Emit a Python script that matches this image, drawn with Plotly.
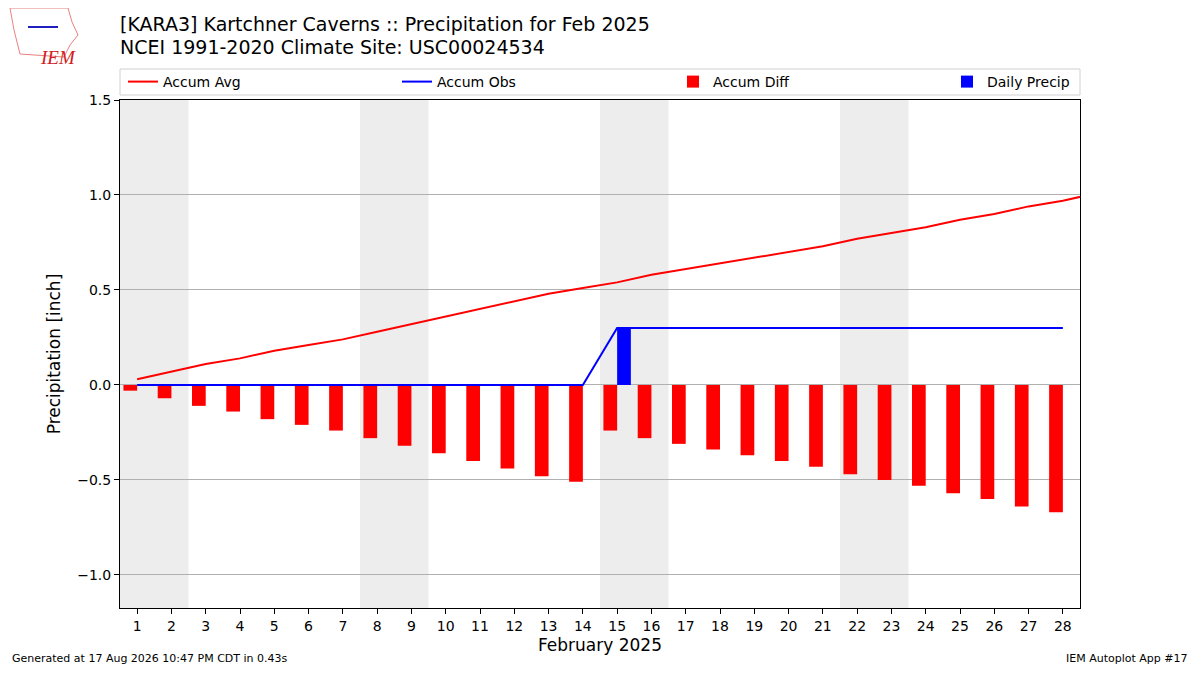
import plotly.graph_objects as go

# =============================================================================
# DATA
# =============================================================================

days = list(range(1, 29))
avg_days = list(range(1, 30))

accum_avg = [0.03, 0.07, 0.11, 0.14, 0.18, 0.21, 0.24, 0.28, 0.32, 0.36,
             0.40, 0.44, 0.48, 0.51, 0.54, 0.58, 0.61, 0.64, 0.67, 0.70,
             0.73, 0.77, 0.80, 0.83, 0.87, 0.90, 0.94, 0.97, 1.01]
accum_obs = [0.0] * 14 + [0.30] * 14
daily_precip = [0.0] * 14 + [0.30] + [0.0] * 13
accum_diff = [-0.03, -0.07, -0.11, -0.14, -0.18, -0.21, -0.24, -0.28, -0.32, -0.36,
              -0.40, -0.44, -0.48, -0.51, -0.24, -0.28, -0.31, -0.34, -0.37, -0.40,
              -0.43, -0.47, -0.50, -0.53, -0.57, -0.60, -0.64, -0.67]

# saturdays (each weekend = sat + sun)
weekend_starts = [1, 8, 15, 22]

title1 = "[KARA3] Kartchner Caverns :: Precipitation for Feb 2025"
title2 = "NCEI 1991-2020 Climate Site: USC00024534"
footer_left = "Generated at 17 Aug 2026 10:47 PM CDT in 0.43s"
footer_right = "IEM Autoplot App #17"

# =============================================================================
# LAYOUT HELPERS (screen pixel -> paper)
# the page body has an 8px margin, so the figure is drawn 8px in
# =============================================================================

OFF = 8
W, H = 1200 - 2 * OFF, 675 - 2 * OFF
PL, PR, PT, PB = 120, 1080, 100, 608   # plot area in screen pixels
ML = PL - OFF
MT = PT - OFF
MR = W - (PR - OFF)
MB = H - (PB - OFF)


def px(x):
    return (x - PL) / (PR - PL)


def py(y):
    return (PB - y) / (PB - PT)


FONT = "DejaVu Sans"

fig = go.Figure()

fig.add_trace(go.Scatter(x=avg_days, y=accum_avg, mode="lines", name="Accum Avg",
                         line=dict(color="red", width=2), legend="legend"))
fig.add_trace(go.Scatter(x=days, y=accum_obs, mode="lines", name="Accum Obs",
                         line=dict(color="blue", width=2), legend="legend2"))
fig.add_trace(go.Bar(x=days, y=accum_diff, name="Accum Diff", width=0.4, offset=-0.4,
                     marker=dict(color="red", line=dict(width=0)), legend="legend3"))
fig.add_trace(go.Bar(x=days, y=daily_precip, name="Daily Precip", width=0.4, offset=0,
                     marker=dict(color="blue", line=dict(width=0)), legend="legend4"))

# weekend shading
for d in weekend_starts:
    fig.add_shape(type="rect", xref="x", yref="paper", x0=d - 0.5, x1=d + 1.5,
                  y0=0, y1=1, fillcolor="#ededed", line=dict(width=0), layer="below")

# legend frame
fig.add_shape(type="rect", xref="paper", yref="paper", x0=0, x1=1,
              y0=py(95), y1=py(69), line=dict(color="#d0d0d0", width=1))

# IEM logo (rough)
fig.add_shape(type="path", xref="paper", yref="paper",
              path="M {} {} L {} {} L {} {} L {} {} L {} {} L {} {} L {} {} L {} {} Z".format(
                  px(10), py(8), px(68), py(8), px(72), py(22), px(78), py(35),
                  px(70), py(45), px(64), py(57), px(20), py(54), px(14), py(30)),
              line=dict(color="#e88080", width=1))
fig.add_shape(type="line", xref="paper", yref="paper", x0=px(28), x1=px(58),
              y0=py(27), y1=py(27), line=dict(color="#2020c0", width=2))
fig.add_annotation(x=px(38), y=py(45), xref="paper", yref="paper", text="<i>IEM</i>",
                   showarrow=False, font=dict(family="Liberation Serif", size=19, color="#d02020"))

# titles
fig.add_annotation(x=0, y=py(24), xref="paper", yref="paper", text=title1, showarrow=False,
                   xanchor="left", yanchor="middle", xshift=-2,
                   font=dict(family=FONT, size=19, color="black"))
fig.add_annotation(x=0, y=py(47), xref="paper", yref="paper", text=title2, showarrow=False,
                   xanchor="left", yanchor="middle", xshift=-2,
                   font=dict(family=FONT, size=19, color="black"))

# footers
fig.add_annotation(x=px(12), y=py(658), xref="paper", yref="paper", text=footer_left,
                   showarrow=False, xanchor="left", yanchor="middle", xshift=-2,
                   font=dict(family=FONT, size=11, color="black"))
fig.add_annotation(x=px(1188), y=py(658), xref="paper", yref="paper", text=footer_right,
                   showarrow=False, xanchor="right", yanchor="middle", xshift=2,
                   font=dict(family=FONT, size=11, color="black"))

legend_style = dict(orientation="h", xanchor="left", yanchor="middle", y=py(82),
                    bgcolor="rgba(0,0,0,0)", font=dict(family=FONT, size=14))

fig.update_layout(
    width=W, height=H,
    margin=dict(l=ML, r=MR, t=MT, b=MB),
    plot_bgcolor="white", paper_bgcolor="white",
    font=dict(family=FONT, size=14, color="black"),
    barmode="overlay",
    showlegend=True,
    legend=dict(x=px(123), **legend_style),
    legend2=dict(x=px(397), **legend_style),
    legend3=dict(x=px(673), **legend_style),
    legend4=dict(x=px(947), **legend_style),
    xaxis=dict(range=[0.5, 28.5], tickmode="array", tickvals=days, ticks="outside",
               ticklen=5, tickcolor="black", showgrid=False, zeroline=False,
               showline=True, linecolor="black", linewidth=1, mirror=True,
               title=dict(text="February 2025", font=dict(size=17), standoff=6)),
    yaxis=dict(range=[-1.174, 1.5], tickvals=[-1.0, -0.5, 0.0, 0.5, 1.0, 1.5],
               tickformat=".1f", ticks="outside", ticklen=5, tickcolor="black",
               showgrid=True, gridcolor="#b0b0b0", gridwidth=1, zeroline=False,
               showline=True, linecolor="black", linewidth=1, mirror=True,
               title=dict(text="Precipitation [inch]", font=dict(size=17), standoff=12)),
)

fig.write_html("out.html")
